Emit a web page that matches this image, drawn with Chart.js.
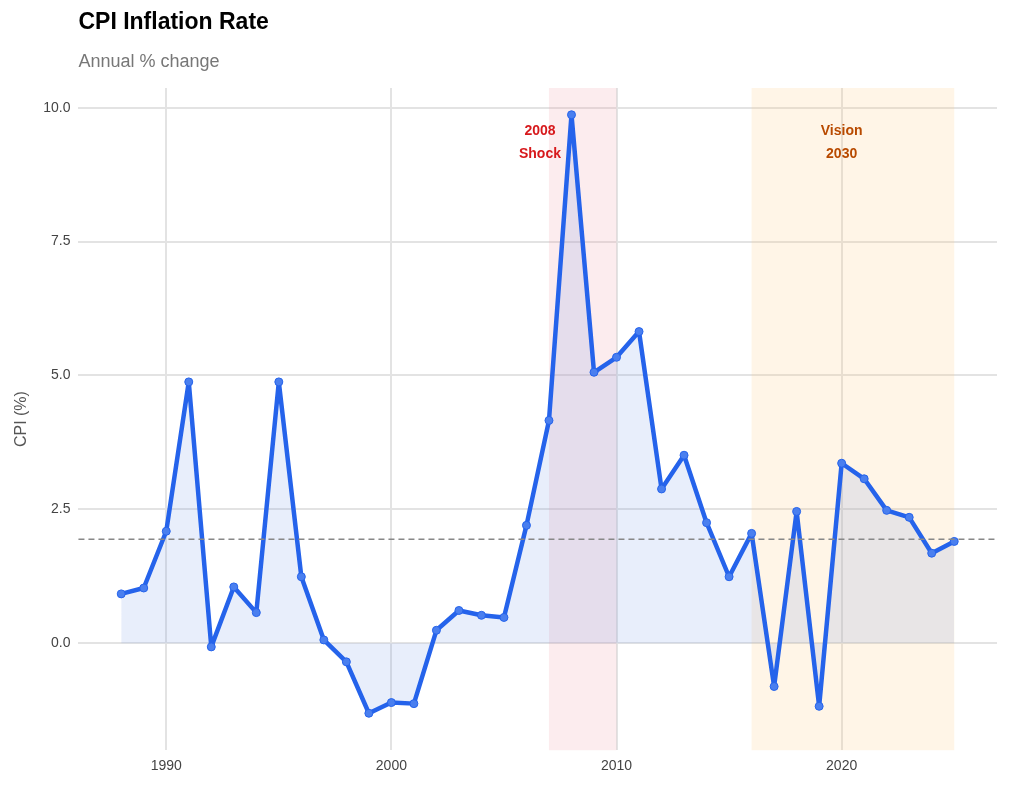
<!DOCTYPE html>
<html><head><meta charset="utf-8">
<script src="https://cdn.jsdelivr.net/npm/chart.js@4"></script>
<style>body{margin:0;background:#fff;font-family:"Liberation Sans",sans-serif}
#wrap{position:absolute;left:0;top:0;width:1009px;height:793px}</style></head>
<body><div id="wrap"><canvas id="c" width="1009" height="793"></canvas></div>
<script>
const years=[1988,1989,1990,1991,1992,1993,1994,1995,1996,1997,1998,1999,2000,2001,2002,2003,2004,2005,2006,2007,2008,2009,2010,2011,2012,2013,2014,2015,2016,2017,2018,2019,2020,2021,2022,2023,2024,2025];
const cpi=[0.92,1.03,2.09,4.88,-0.07,1.05,0.57,4.88,1.24,0.06,-0.35,-1.31,-1.11,-1.13,0.24,0.61,0.52,0.48,2.2,4.16,9.87,5.06,5.34,5.82,2.88,3.51,2.25,1.24,2.05,-0.81,2.46,-1.18,3.36,3.07,2.48,2.35,1.68,1.9];
const meanLine=1.94;
const bands=[{from:2007,to:2010,color:'rgba(240,150,160,0.18)',label:['2008','Shock'],tc:'#d7191c',lx:2006.6},
             {from:2016,to:2025,color:'rgba(253,200,120,0.18)',label:['Vision','2030'],tc:'#b84a00',lx:2020}];
const yTicks=[0,2.5,5,7.5,10];
const xTicks=[1990,2000,2010,2020];
const deco={id:'deco',
 beforeDatasetsDraw(ch){const {ctx,chartArea:a,scales:{x,y}}=ch;ctx.save();
  bands.forEach(b=>{ctx.fillStyle=b.color;ctx.fillRect(x.getPixelForValue(b.from),a.top,x.getPixelForValue(b.to)-x.getPixelForValue(b.from),a.bottom-a.top);});
  ctx.restore();},
 afterDatasetsDraw(ch){const {ctx,chartArea:a,scales:{x,y}}=ch;ctx.save();
  ctx.setLineDash([6,4]);ctx.strokeStyle='#888';ctx.lineWidth=1.5;const py=y.getPixelForValue(meanLine);
  ctx.beginPath();ctx.moveTo(a.left,py);ctx.lineTo(a.right,py);ctx.stroke();ctx.setLineDash([]);
  ctx.font='bold 14px "Liberation Sans", sans-serif';ctx.textAlign='center';ctx.textBaseline='middle';
  bands.forEach(b=>{ctx.fillStyle=b.tc;const px=x.getPixelForValue(b.lx);ctx.fillText(b.label[0],px,131);ctx.fillText(b.label[1],px,154);});
  ctx.textAlign='left';ctx.fillStyle='#000';ctx.font='bold 23px "Liberation Sans", sans-serif';ctx.fillText('CPI Inflation Rate',a.left,23);
  ctx.fillStyle='#777';ctx.font='18px "Liberation Sans", sans-serif';ctx.fillText('Annual % change',a.left,62);
  ctx.restore();}};
new Chart(document.getElementById('c'),{type:'line',
 data:{datasets:[{data:years.map((v,i)=>({x:v,y:cpi[i]})),borderColor:'#2563eb',borderWidth:4.5,borderJoinStyle:'round',borderCapStyle:'round',
  pointRadius:4,pointBackgroundColor:'#4a7fef',pointBorderColor:'#2563eb',pointBorderWidth:1,
  fill:'origin',backgroundColor:'rgba(100,140,230,0.15)',tension:0}]},
 options:{responsive:false,animation:false,devicePixelRatio:1,
  layout:{padding:{left:8,right:12,top:88,bottom:10}},
  plugins:{legend:{display:false},tooltip:{enabled:false}},
  scales:{x:{type:'linear',min:1986.1,max:2026.9,afterBuildTicks(s){s.ticks=xTicks.map(v=>({value:v}));},
    grid:{color:'#e3e3e3',lineWidth:2,drawTicks:false},border:{display:false},
    ticks:{color:'#444',font:{size:14,family:'"Liberation Sans"'},padding:8,callback:v=>String(v)}},
   y:{min:-2.0,max:10.37,afterBuildTicks(s){s.ticks=yTicks.map(v=>({value:v}));},
    grid:{color:'#e3e3e3',lineWidth:2,drawTicks:false},border:{display:false},
    title:{display:true,text:'CPI (%)',color:'#555',font:{size:16,family:'"Liberation Sans"'}},
    ticks:{color:'#444',font:{size:14,family:'"Liberation Sans"'},padding:8,callback:v=>v.toFixed(1)}}}},
 plugins:[deco]});
</script></body></html>
